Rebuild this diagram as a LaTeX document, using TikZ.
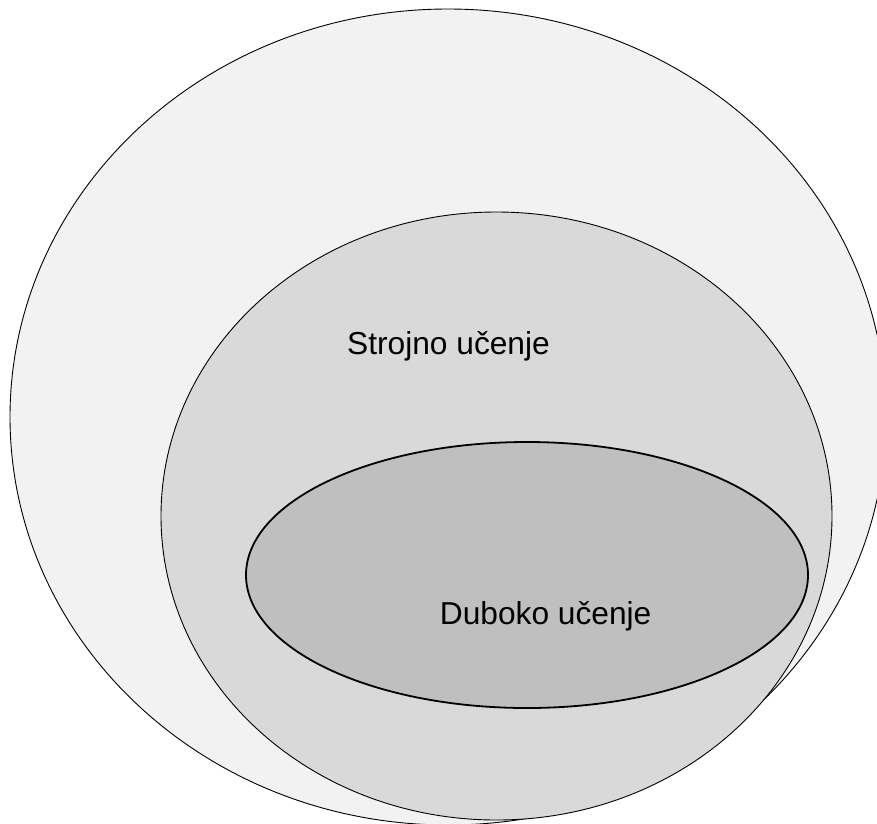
\documentclass[tikz,border=0pt]{standalone}
\usepackage{fontspec}
\setmainfont{Liberation Sans}
\usetikzlibrary{shapes.geometric}
\definecolor{outerfill}{HTML}{F2F2F2}
\definecolor{midfill}{HTML}{D9D9D9}
\definecolor{innerfill}{HTML}{BFBFBF}
\tikzset{
  setbox/.style={ellipse, draw=black, inner sep=0pt},
  lbl/.style={anchor=base, inner sep=0pt, font=\fontsize{31.7pt}{36pt}\selectfont}
}
\begin{document}
\begin{tikzpicture}[x=1pt,y=-1pt]
\useasboundingbox (0,0) rectangle (877,823);
\clip (0,0) rectangle (877,823);
\node[setbox, fill=outerfill, line width=0.9pt, minimum width=876pt, minimum height=816pt] (ai) at (448,417) {};
\node[setbox, fill=midfill, line width=0.9pt, minimum width=671pt, minimum height=608pt] (ml) at (496.5,516) {};
\node[setbox, fill=innerfill, line width=1.8pt, minimum width=562pt, minimum height=266pt] (dl) at (527,575) {};
\node[lbl] (mltext) at (448.5,354) {Strojno učenje};
\node[lbl] (dltext) at (545.7,624.3) {Duboko učenje};
\end{tikzpicture}
\end{document}
